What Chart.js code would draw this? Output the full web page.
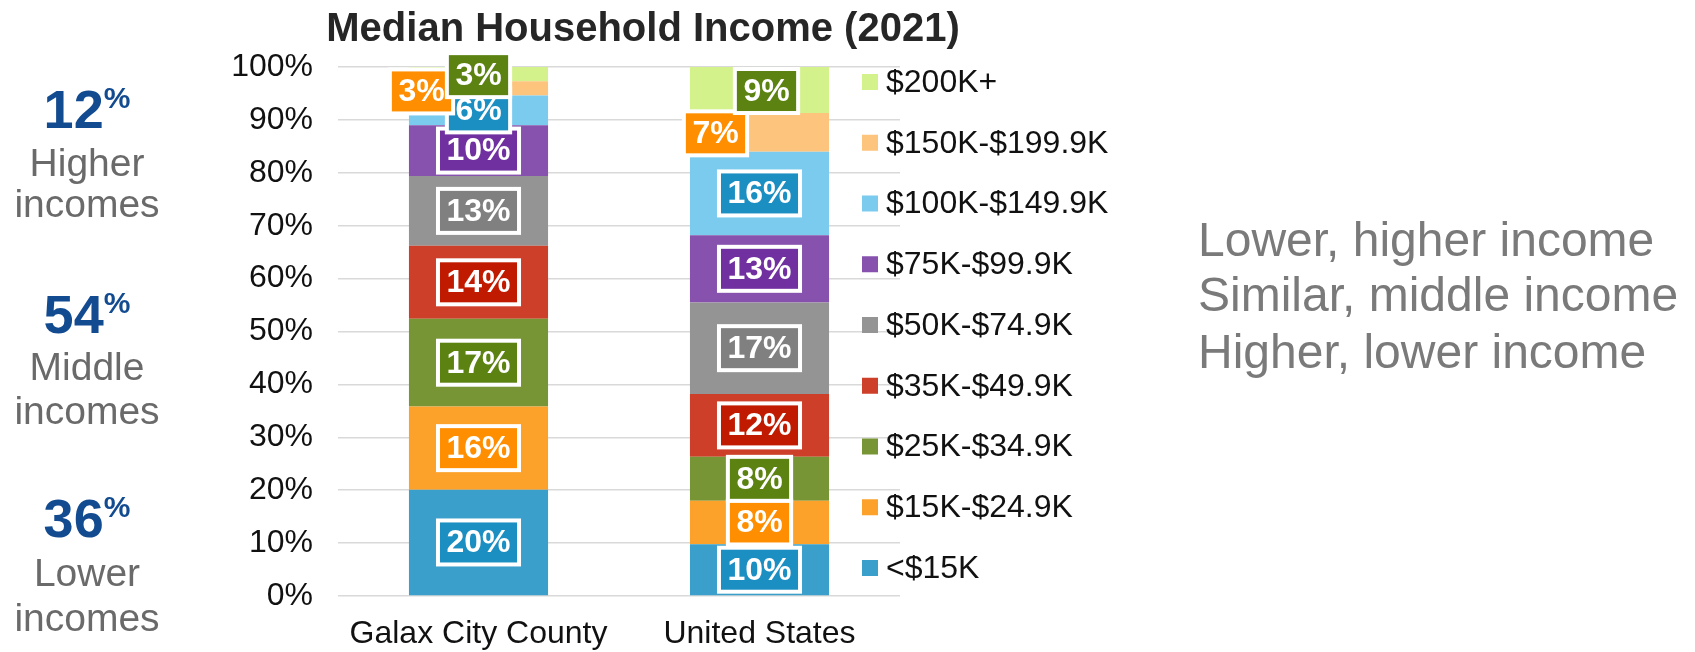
<!DOCTYPE html>
<html><head><meta charset="utf-8">
<script src="https://cdn.jsdelivr.net/npm/chart.js@4/dist/chart.umd.min.js"></script>
<style>
html,body{margin:0;padding:0;background:#fff;}
#wrap{position:relative;width:1695px;height:652px;overflow:hidden;font-family:"Liberation Sans",Arial,sans-serif;}
canvas{position:absolute;left:0;top:0;}
.t{position:absolute;white-space:nowrap;line-height:1;}
.blk{left:0;width:174px;text-align:center;}
.num{font-weight:bold;font-size:54px;color:#134B90;}
.num .pc{font-size:30px;vertical-align:20px;}
.lab{font-size:39px;color:#6a6a6a;}
.rt{left:1198px;font-size:48px;color:#7a7a7a;}
.title{left:0;width:1286px;text-align:center;font-weight:bold;font-size:40px;color:#262626;}
</style></head><body>
<div id="wrap">
<canvas id="c" width="1695" height="652"></canvas>
<div class="t title" style="top:7px">Median Household Income (2021)</div>

<div class="t blk num" style="top:82px">12<span class="pc">%</span></div>
<div class="t blk lab" style="top:143px">Higher</div>
<div class="t blk lab" style="top:184px">incomes</div>

<div class="t blk num" style="top:287px">54<span class="pc">%</span></div>
<div class="t blk lab" style="top:347px">Middle</div>
<div class="t blk lab" style="top:391px">incomes</div>

<div class="t blk num" style="top:491px">36<span class="pc">%</span></div>
<div class="t blk lab" style="top:553px">Lower</div>
<div class="t blk lab" style="top:598px">incomes</div>

<div class="t rt" style="top:216px">Lower, higher income</div>
<div class="t rt" style="top:271px">Similar, middle income</div>
<div class="t rt" style="top:328px">Higher, lower income</div>
</div>
<script>
// ---- data ----
const categories = ['Galax City County', 'United States'];
const seriesNames = ['<$15K', '$15K-$24.9K', '$25K-$34.9K', '$35K-$49.9K', '$50K-$74.9K', '$75K-$99.9K', '$100K-$149.9K', '$150K-$199.9K', '$200K+'];
const galaxValues = [20.1, 15.7, 16.6, 13.8, 13.2, 9.6, 5.6, 2.7, 2.7];
const usValues = [9.8, 8.2, 8.3, 11.9, 17.3, 12.7, 15.8, 7.3, 8.7];
const yTickValues = [0, 10, 20, 30, 40, 50, 60, 70, 80, 90, 100];

// ---- styles ----
const barColors = ['#3A9FCA', '#FCA12A', '#779534', '#CD3F29', '#949494', '#8652AD', '#7BCBEF', '#FDC47E', '#D3F28C'];
const labelBoxColors = ['#1B8EC2', '#FF8F00', '#5C8212', '#C01B00', '#808080', '#7030A0', '#1B8EC2', '#FF8F00', '#5C8212'];
// label nudges [datasetIndex][categoryIndex] = [dx, dy]
const labelNudges = {7: {0: [-57, 3], 1: [-44, 1]}, 8: {0: [0, 1], 1: [7, 1]}};

const datasets = seriesNames.map((name, k) => ({
  label: name,
  data: [galaxValues[k], usValues[k]],
  backgroundColor: barColors[k],
  borderWidth: 0,
  barPercentage: 0.495,
  categoryPercentage: 1.0
}));

const FONT = '"Liberation Sans", Arial, sans-serif';

const boxLabels = {
  id: 'boxLabels',
  afterDatasetsDraw(chart) {
    const ctx = chart.ctx;
    ctx.save();
    ctx.font = 'bold 32px ' + FONT;
    ctx.textAlign = 'center';
    ctx.textBaseline = 'middle';
    chart.data.datasets.forEach((ds, di) => {
      const meta = chart.getDatasetMeta(di);
      meta.data.forEach((bar, i) => {
        const v = ds.data[i];
        const p = bar.getProps(['x', 'y', 'base'], true);
        const nud = (labelNudges[di] && labelNudges[di][i]) || [0, 0];
        const cx = p.x + nud[0];
        const cy = (p.y + p.base) / 2 + nud[1];
        const txt = Math.round(v) + '%';
        const tw = ctx.measureText(txt).width;
        const w = tw + 13, h = 40, b = 4;
        ctx.fillStyle = '#ffffff';
        ctx.fillRect(cx - w / 2 - b, cy - h / 2 - b, w + 2 * b, h + 2 * b);
        ctx.fillStyle = labelBoxColors[di];
        ctx.fillRect(cx - w / 2, cy - h / 2, w, h);
        ctx.fillStyle = '#ffffff';
        ctx.fillText(txt, cx, cy + 1);
      });
    });
    ctx.restore();
  }
};

const sideLegend = {
  id: 'sideLegend',
  afterDraw(chart) {
    const ctx = chart.ctx;
    const ds = chart.data.datasets;
    ctx.save();
    ctx.font = '32px ' + FONT;
    ctx.textAlign = 'left';
    ctx.textBaseline = 'middle';
    const n = ds.length;
    for (let r = 0; r < n; r++) {
      const d = ds[n - 1 - r];
      const y = 82 + r * 60.75;
      ctx.fillStyle = d.backgroundColor;
      ctx.fillRect(862, y - 8, 16, 16);
      ctx.fillStyle = '#111111';
      ctx.fillText(d.label, 886, y + 1);
    }
    ctx.restore();
  }
};

new Chart(document.getElementById('c'), {
  type: 'bar',
  data: { labels: categories, datasets },
  options: {
    responsive: false,
    animation: false,
    events: [],
    layout: { padding: { left: 0, right: 795, top: 67, bottom: 0 } },
    plugins: { legend: { display: false }, tooltip: { enabled: false }, title: { display: false } },
    scales: {
      x: {
        stacked: true,
        grid: { display: false, drawTicks: false },
        border: { display: false },
        ticks: { font: { family: FONT, size: 32 }, color: '#111111', padding: 19 },
        afterFit: s => { s.height = 56; }
      },
      y: {
        stacked: true,
        min: 0, max: 100,
        afterBuildTicks: s => { s.ticks = yTickValues.map(v => ({ value: v })); },
        grid: { color: '#d9d9d9', lineWidth: 1.5, drawTicks: false },
        border: { display: false },
        ticks: { font: { family: FONT, size: 32 }, color: '#111111', padding: 25, callback: v => v + '%' },
        afterFit: s => { s.width = 338; }
      }
    }
  },
  plugins: [boxLabels, sideLegend]
});
</script>
</body></html>
